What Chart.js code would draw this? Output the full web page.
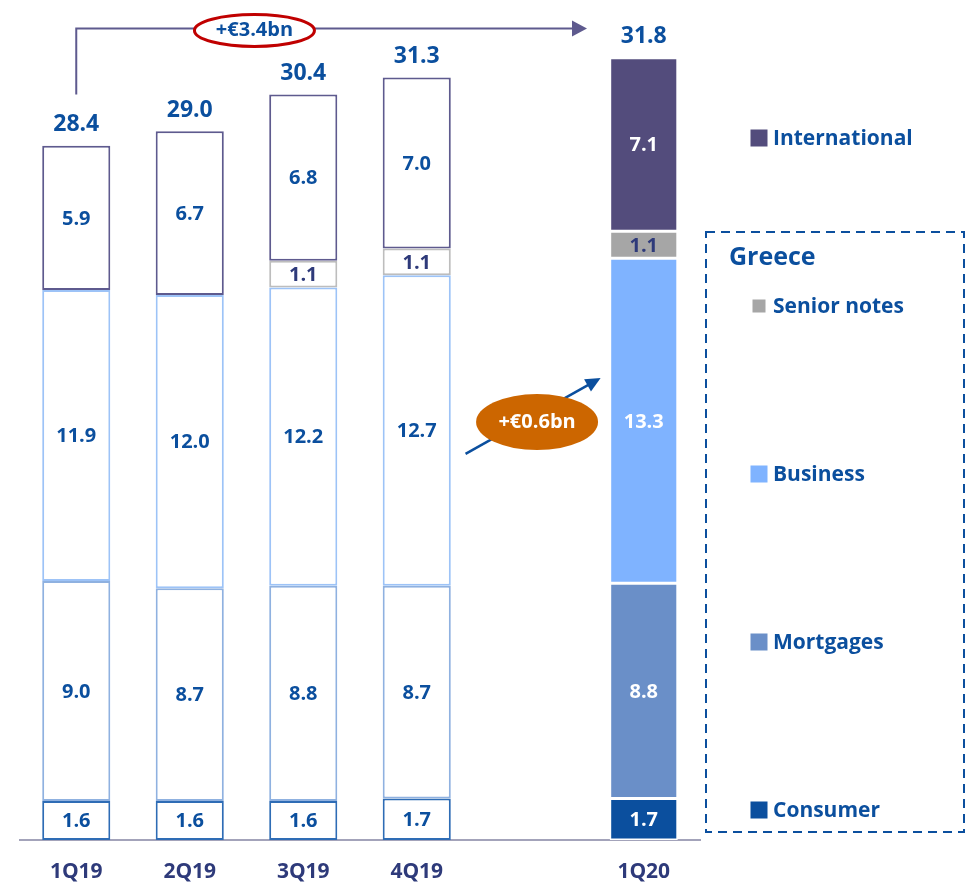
<!DOCTYPE html>
<html>
<head>
<meta charset="utf-8">
<script src="https://cdn.jsdelivr.net/npm/chart.js@4"></script>
<style>
  body { margin: 0; background: #fff; }
  #wrap { width: 971px; height: 888px; }
</style>
</head>
<body>
<div id="wrap"><canvas id="myChart" width="971" height="888"></canvas></div>
<script>
const quarters = ["1Q19", "2Q19", "3Q19", "4Q19", "", "1Q20"]
const consumer = [1.6, 1.6, 1.6, 1.7, null, 1.7]
const mortgages = [9.0, 8.7, 8.8, 8.7, null, 8.8]
const business = [11.9, 12.0, 12.2, 12.7, null, 13.3]
const seniorNotes = [null, null, 1.1, 1.1, null, 1.1]
const international = [5.9, 6.7, 6.8, 7.0, null, 7.1]
const totals = ["28.4", "29.0", "30.4", "31.3", "", "31.8"]

const navy = "#0B4F9E"
const font = "'Open Sans', Lato, sans-serif"

// 2019 bars are hollow, 1Q20 is filled
function fills(color) {
  return quarters.map((q, i) => i === 5 ? color : "#ffffff")
}

const series = [
  { label: "Consumer", data: consumer, color: "#0B4F9E", edge: "#2E6CB5", text: [navy, "#fff"] },
  { label: "Mortgages", data: mortgages, color: "#6A8FC8", edge: "#8FB1E0", text: [navy, "#fff"] },
  { label: "Business", data: business, color: "#7FB3FF", edge: "#9DC3F7", text: [navy, "#fff"] },
  { label: "Senior notes", data: seniorNotes, color: "#A6A6A6", edge: "#BDBDBD", text: ["#2E3A7A", "#2E3A7A"] },
  { label: "International", data: international, color: "#534C7C", edge: "#5E5A8E", text: [navy, "#fff"] }
]

const labelsPlugin = {
  id: "labels",
  afterDatasetsDraw(chart) {
    const { ctx } = chart
    ctx.save()
    ctx.textAlign = "center"
    ctx.textBaseline = "middle"
    chart.data.datasets.forEach((ds, di) => {
      const meta = chart.getDatasetMeta(di)
      meta.data.forEach((bar, i) => {
        const v = ds.data[i]
        if (v == null) return
        ctx.font = "bold 20px " + font
        ctx.fillStyle = series[di].text[i === 5 ? 1 : 0]
        ctx.fillText(v.toFixed(1), bar.x, (bar.y + bar.base) / 2 + 1)
      })
    })
    // totals above bars
    const top = chart.getDatasetMeta(chart.data.datasets.length - 1)
    ctx.font = "bold 23px " + font
    ctx.fillStyle = navy
    top.data.forEach((bar, i) => {
      if (!totals[i]) return
      ctx.fillText(totals[i], bar.x, bar.y - 21)
    })
    ctx.restore()
  }
}

function arrowHead(ctx, x, y, ang, len, wid, color) {
  ctx.save()
  ctx.translate(x, y)
  ctx.rotate(ang)
  ctx.beginPath()
  ctx.moveTo(0, 0)
  ctx.lineTo(-len, -wid / 2)
  ctx.lineTo(-len, wid / 2)
  ctx.closePath()
  ctx.fillStyle = color
  ctx.fill()
  ctx.restore()
}

const annotationPlugin = {
  id: "annotations",
  afterDraw(chart) {
    const { ctx, scales: { x, y } } = chart
    ctx.save()
    // bracket from 1Q19 to 1Q20
    const x0 = x.getPixelForValue(0)
    const x1 = x.getPixelForValue(4.5)
    const yTop = y.getPixelForValue(33.2)
    const yStart = y.getPixelForValue(30.5)
    ctx.strokeStyle = "#5E5A8E"
    ctx.lineWidth = 2
    ctx.beginPath()
    ctx.moveTo(x0, yStart)
    ctx.lineTo(x0, yTop)
    ctx.lineTo(x1 - 12, yTop)
    ctx.stroke()
    arrowHead(ctx, x1, yTop, 0, 15, 16, "#5E5A8E")

    // red ellipse label
    const ex = x.getPixelForValue(1.57)
    ctx.beginPath()
    ctx.ellipse(ex, yTop + 2, 60, 16, 0, 0, Math.PI * 2)
    ctx.fillStyle = "#fff"
    ctx.fill()
    ctx.lineWidth = 3
    ctx.strokeStyle = "#C00000"
    ctx.stroke()
    ctx.font = "bold 20px " + font
    ctx.fillStyle = navy
    ctx.textAlign = "center"
    ctx.textBaseline = "middle"
    ctx.fillText("+€3.4bn", ex, yTop + 2)

    // business growth arrow
    const ax0 = x.getPixelForValue(3.43), ay0 = y.getPixelForValue(15.8)
    const ax1 = x.getPixelForValue(4.62), ay1 = y.getPixelForValue(18.9)
    const ang = Math.atan2(ay1 - ay0, ax1 - ax0)
    ctx.strokeStyle = navy
    ctx.lineWidth = 2.5
    ctx.beginPath()
    ctx.moveTo(ax0, ay0)
    ctx.lineTo(ax1 - 12 * Math.cos(ang), ay1 - 12 * Math.sin(ang))
    ctx.stroke()
    arrowHead(ctx, ax1, ay1, ang, 15, 14, navy)

    const ox = x.getPixelForValue(4.06), oy = y.getPixelForValue(17.1)
    ctx.beginPath()
    ctx.ellipse(ox, oy, 61, 28, 0, 0, Math.PI * 2)
    ctx.fillStyle = "#CC6600"
    ctx.fill()
    ctx.fillStyle = "#fff"
    ctx.fillText("+€0.6bn", ox, oy)

    // legend
    ctx.textAlign = "left"
    ctx.font = "bold 21px " + font
    const items = [
      { name: "International", color: series[4].color, y: 138, size: 17 },
      { name: "Senior notes", color: series[3].color, y: 306, size: 13 },
      { name: "Business", color: series[2].color, y: 474, size: 17 },
      { name: "Mortgages", color: series[1].color, y: 642, size: 17 },
      { name: "Consumer", color: series[0].color, y: 810, size: 17 }
    ]
    items.forEach(it => {
      ctx.fillStyle = it.color
      ctx.fillRect(759 - it.size / 2, it.y - it.size / 2, it.size, it.size)
      ctx.fillStyle = navy
      ctx.fillText(it.name, 773, it.y + 1)
    })

    ctx.setLineDash([9, 6])
    ctx.lineWidth = 2
    ctx.strokeStyle = navy
    ctx.strokeRect(706, 232, 258, 600)
    ctx.setLineDash([])
    ctx.font = "bold 25px " + font
    ctx.fillText("Greece", 729, 258)
    ctx.restore()
  }
}

const ctx = document.getElementById("myChart").getContext("2d")
const chart = new Chart(ctx, {
  type: "bar",
  data: {
    labels: quarters,
    datasets: series.map(s => ({
      label: s.label,
      data: s.data,
      backgroundColor: fills(s.color),
      borderColor: s.data.map((v, i) => i === 5 ? "#ffffff" : s.edge),
      borderWidth: quarters.map((q, i) => i === 5 ? 1.5 : 2),
      borderSkipped: false,
      barPercentage: 0.6,
      categoryPercentage: 1.0
    }))
  },
  options: {
    responsive: false,
    animation: false,
    devicePixelRatio: 1,
    layout: { padding: { left: 19.5, right: 270.5, top: 45.6, bottom: 0 } },
    plugins: { legend: { display: false }, tooltip: { enabled: false } },
    scales: {
      x: {
        stacked: true,
        grid: { display: false, drawTicks: false },
        border: { display: true, color: "#A3A3BA", width: 2 },
        ticks: { color: "#2E3A7A", font: { family: font, size: 21, weight: "bold" }, padding: 19 },
        afterFit(scale) { scale.height = 48 }
      },
      y: {
        stacked: true,
        display: false,
        min: 0,
        max: 32.5
      }
    }
  },
  plugins: [labelsPlugin, annotationPlugin]
})
</script>
</body>
</html>
